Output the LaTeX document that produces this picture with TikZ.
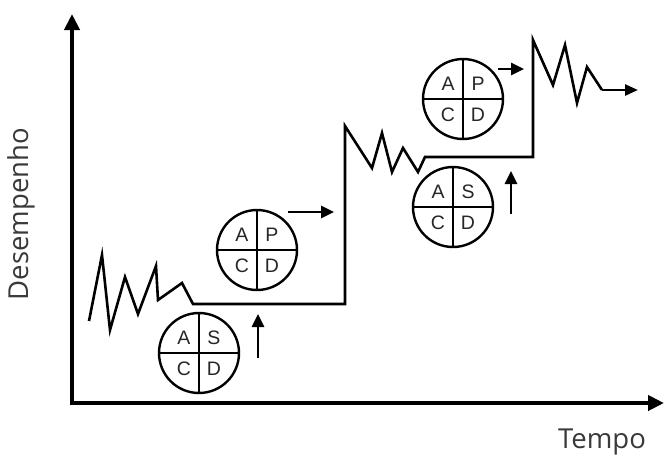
\documentclass[tikz,border=0pt]{standalone}
\usepackage{fontspec}
\setmainfont{Open Sans}
\newfontfamily\cycfont{Liberation Sans}
\usetikzlibrary{arrows.meta}
\definecolor{labelgray}{HTML}{3A3A3A}
\tikzset{
  axisline/.style={line width=4.5pt, -{Triangle[length=16pt,width=15pt]}},
  trace/.style={line width=2.6pt, line join=miter},
  cyc/.style={circle, draw, line width=2.4pt, minimum size=80pt, inner sep=0pt},
  quad/.style={font=\cycfont\fontsize{19.5}{19.5}\selectfont, text=black!85, inner sep=0pt},
  smallarrow/.style={line width=2.6pt, -{Triangle[length=13pt,width=12pt]}},
  axislabel/.style={font=\fontsize{27.5}{30}\selectfont, text=labelgray, inner sep=0pt}
}
\newcommand{\cycle}[5]{%
  \node[cyc] (#1) at (#2) {};
  \draw[line width=2.4pt] (#1.north) -- (#1.south) (#1.west) -- (#1.east);
  \node[quad] (#1-a) at ([shift={(-15,-15)}]#1.center) {A};
  \node[quad] (#1-b) at ([shift={(15,-15)}]#1.center) {#3};
  \node[quad] (#1-c) at ([shift={(-15,16)}]#1.center) {#4};
  \node[quad] (#1-d) at ([shift={(15,16)}]#1.center) {#5};
}
\begin{document}
\begin{tikzpicture}[x=1pt,y=-1pt]
\useasboundingbox (0,0) rectangle (664,459);
% axes
\coordinate (o) at (72,403);
\coordinate (ytop) at (72,14);
\coordinate (xend) at (664,403);
\draw[axisline] ([yshift=-2pt]o) -- (ytop);
\draw[axisline] ([xshift=-2pt]o) -- (xend);
\node[axislabel, rotate=90] (ylab) at (21,214) {Desempenho};
\node[axislabel] (xlab) at (602,442) {Tempo};
% performance trace
\coordinate (tend) at (638,90);
\draw[trace] (89,321) -- (102,255) -- (110,330) -- (125,277) -- (138,314)
  -- (156,266) -- (158,300) -- (182,283) -- (193,304) -- (345,304)
  -- (345,126) -- (372,168) -- (382,133) -- (392,172) -- (403,148)
  -- (418,172) -- (425,157) -- (533,157) -- (533,40) -- (553,85)
  -- (565,45) -- (577,103) -- (587,67) -- (602,90) coordinate (t0);
\draw[trace, -{Triangle[length=13pt,width=11pt]}] (t0) -- (tend);
% cycles
\cycle{c1}{199,353}{S}{C}{D}
\cycle{c2}{257,250}{P}{C}{D}
\cycle{c3}{453,207}{S}{C}{D}
\cycle{c4}{463,99}{P}{C}{D}
% small arrows
\coordinate (u1s) at (258,358); \coordinate (u1e) at (258,314);
\coordinate (r1s) at (288,212); \coordinate (r1e) at (334,212);
\coordinate (u2s) at (511,214); \coordinate (u2e) at (511,171);
\coordinate (r2s) at (498,69);  \coordinate (r2e) at (524,69);
\draw[smallarrow] (u1s) -- (u1e);
\draw[smallarrow] (r1s) -- (r1e);
\draw[smallarrow] (u2s) -- (u2e);
\draw[smallarrow] (r2s) -- (r2e);
\end{tikzpicture}
\end{document}
